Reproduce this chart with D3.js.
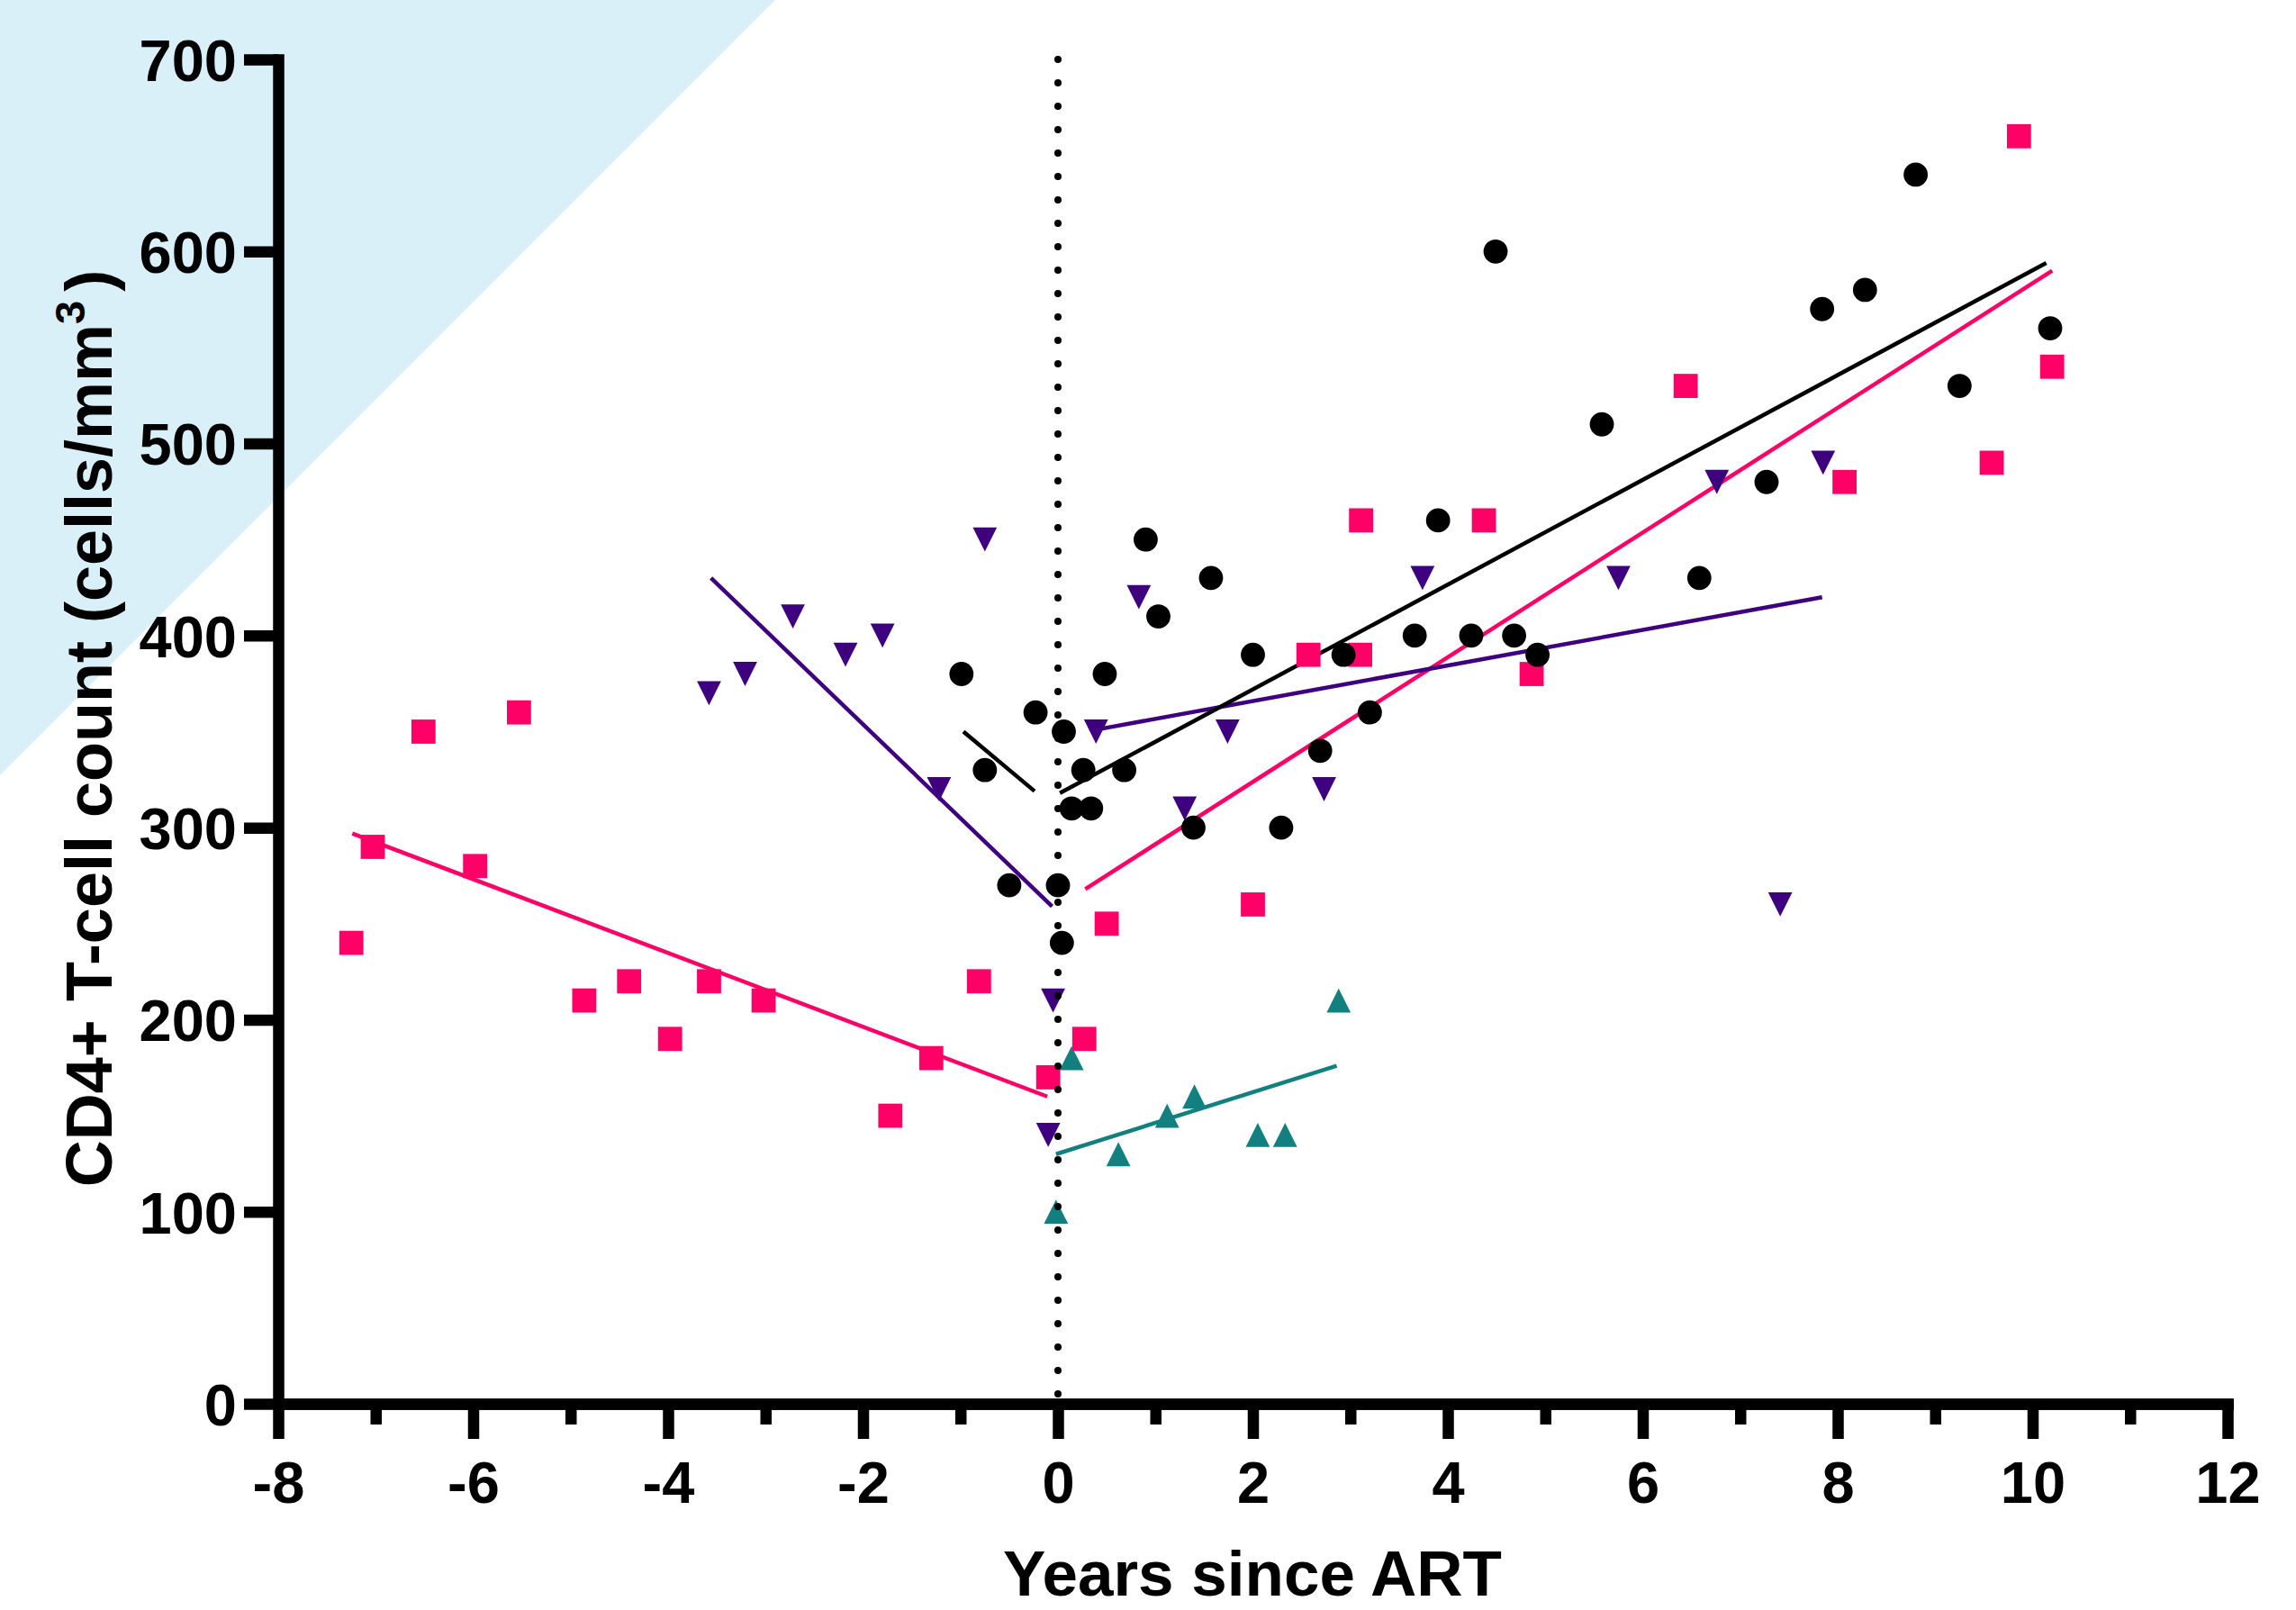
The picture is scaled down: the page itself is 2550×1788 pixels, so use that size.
<!DOCTYPE html>
<html lang="en">
<head><meta charset="utf-8"/>
<script src="https://cdn.jsdelivr.net/npm/d3@7"></script>
<style>
body { margin: 0; background: #fff; }
text { font-family: "Liberation Sans", Arial, sans-serif; font-weight: bold; fill: #000; }
</style>
</head>
<body>
<svg id="chart" width="2550" height="1788"></svg>
<script>

var xTicks = [-8,-6,-4,-2,0,2,4,6,8,10,12];
var xMinor = [-7,-5,-3,-1,1,3,5,7,9,11];
var yTicks = [0,100,200,300,400,500,600,700];

// black circles
var circles = [[-0.99,380],[-0.75,330],[-0.50,270],[-0.23,360],[0.00,270],[0.06,350],[0.04,240],
	[0.14,310],[0.26,330],[0.34,310],[0.48,380],[0.68,330],[0.90,450],[1.03,410],[1.39,300],
	[1.57,430],[2.00,390],[2.29,300],[2.69,340],[2.93,390],[3.20,360],[3.66,400],[3.90,460],
	[4.24,400],[4.49,600],[4.68,400],[4.92,390],[5.58,510],[6.58,430],[7.27,480],[7.84,570],
	[8.28,580],[8.80,640],[9.25,530],[10.18,560]];

// pink squares
var squares = [[-7.25,240],[-7.03,290],[-6.51,350],[-5.98,280],[-5.53,360],[-4.86,210],[-4.40,220],
	[-3.98,190],[-3.58,220],[-3.02,210],[-1.72,150],[-1.30,180],[-0.81,220],[-0.10,170],[0.27,190],
	[0.50,250],[2.00,260],[2.57,390],[3.10,390],[3.11,460],[4.37,460],[4.86,380],[6.44,530],
	[8.07,480],[9.58,490],[9.86,660],[10.20,540]];

// purple down triangles
var downTri = [[-3.58,370],[-3.21,380],[-2.72,410],[-2.18,390],[-1.80,400],[-1.22,320],[-0.75,450],
	[-0.05,210],[-0.10,140],[0.39,350],[0.83,420],[1.30,310],[1.74,350],[2.73,320],[3.74,430],
	[5.75,430],[6.76,480],[7.41,260],[7.85,490]];

// teal up triangles
var upTri = [[-0.02,100],[0.14,180],[0.62,130],[1.12,150],[1.40,160],[2.05,140],[2.33,140],[2.88,210]];

// fitted lines (pre / post ART)
var pinkPre = [[-7.24,297],[-0.11,160]];
var pinkPost = [[0.28,268],[10.20,590]];
var blackPre = [[-0.97,350],[-0.24,319]];
var blackPost = [[0.02,318],[10.14,594]];
var purplePre = [[-3.56,430],[-0.06,259]];
var purplePost = [[0.39,351],[7.84,420]];
var tealPost = [[-0.02,130],[2.86,176]];

var PINK = "#ff0066", PURPLE = "#3f0080", TEAL = "#138080", BLACK = "#000";

var svg = d3.select("#chart");

// light blue corner
svg.append("polygon").attr("points", "0,0 861,0 0,861").attr("fill", "#d9f0f8");

var x = d3.scaleLinear().domain([-8, 12]).range([309, 2474]);
var y = d3.scaleLinear().domain([0, 700]).range([1559, 66]);

var line = d3.line().x(d => x(d[0])).y(d => y(d[1]));

[[pinkPre, PINK], [pinkPost, PINK], [purplePre, PURPLE], [purplePost, PURPLE],
 [blackPre, BLACK], [blackPost, BLACK], [tealPost, TEAL]].forEach(function(l){
	svg.append("path").attr("d", line(l[0]))
		.attr("fill", "none").attr("stroke", l[1]).attr("stroke-width", 4.5);
});

var S = 13.4;
svg.selectAll(".up").data(upTri).enter().append("path")
	.attr("fill", TEAL)
	.attr("d", d => "M" + x(d[0]) + "," + (y(d[1]) - S) + "l" + S + "," + 2*S + "h" + (-2*S) + "z");

svg.selectAll(".down").data(downTri).enter().append("path")
	.attr("fill", PURPLE)
	.attr("d", d => "M" + (x(d[0]) - S) + "," + (y(d[1]) - S) + "h" + (2*S) + "l" + (-S) + "," + 2*S + "z");

svg.selectAll(".sq").data(squares).enter().append("rect")
	.attr("fill", PINK)
	.attr("x", d => x(d[0]) - S).attr("y", d => y(d[1]) - S)
	.attr("width", 2*S).attr("height", 2*S);

svg.selectAll(".ci").data(circles).enter().append("circle")
	.attr("fill", BLACK)
	.attr("cx", d => x(d[0])).attr("cy", d => y(d[1])).attr("r", S);

// dotted line at ART start
svg.append("line")
	.attr("x1", x(0)).attr("x2", x(0)).attr("y1", y(700)).attr("y2", y(0) - 8)
	.attr("stroke", "#000").attr("stroke-width", 8)
	.attr("stroke-linecap", "round").attr("stroke-dasharray", "0 26");

// axes
var ax = svg.append("g").attr("transform", "translate(0," + y(0) + ")");
ax.call(d3.axisBottom(x).tickValues(xMinor).tickSize(23).tickSizeOuter(0).tickFormat(""));
ax.append("g").call(d3.axisBottom(x).tickValues(xTicks).tickSize(39).tickSizeOuter(0)
	.tickPadding(25).tickFormat(d => String(d)));

var ay = svg.append("g").attr("transform", "translate(" + x(-8) + ",0)");
ay.call(d3.axisLeft(y).tickValues(yTicks).tickSize(38).tickSizeOuter(0).tickPadding(8)
	.tickFormat(d => String(d)));

svg.selectAll(".domain").attr("stroke", "#000").attr("stroke-width", 12.5).attr("stroke-linecap", "square");
svg.selectAll(".tick line").attr("stroke", "#000").attr("stroke-width", 12.5);
svg.selectAll(".tick text").attr("font-size", 65).style("font-family", "'Liberation Sans', Arial, sans-serif")
	.style("font-weight", "bold").attr("fill", "#000");
ay.selectAll(".tick text").attr("dy", "0.36em");

// titles
svg.append("text").attr("x", 1391).attr("y", 1772).attr("text-anchor", "middle")
	.attr("font-size", 71).text("Years since ART");

var yl = svg.append("text").attr("transform", "translate(124,809) rotate(-90)")
	.attr("text-anchor", "middle").attr("font-size", 72);
yl.append("tspan").text("CD4+ T-cell count (cells/mm");
yl.append("tspan").attr("font-size", 47).attr("dy", -30).text("3");
yl.append("tspan").attr("dy", 30).attr("dx", 10).text(")");

</script>
</body>
</html>
